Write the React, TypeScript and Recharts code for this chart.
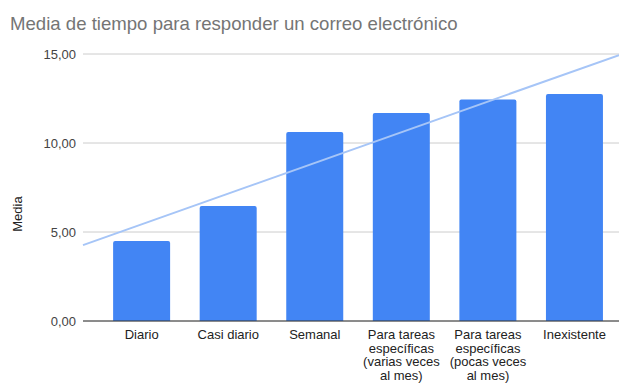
import React from 'react';
import {
  ComposedChart,
  Bar,
  XAxis,
  YAxis,
  CartesianGrid,
  ReferenceLine,
} from 'recharts';

const categories = [
  'Diario',
  'Casi diario',
  'Semanal',
  'Para tareas específicas (varias veces al mes)',
  'Para tareas específicas (pocas veces al mes)',
  'Inexistente',
];
const tickLines: string[][] = [
  ['Diario'],
  ['Casi diario'],
  ['Semanal'],
  ['Para tareas', 'específicas', '(varias veces', 'al mes)'],
  ['Para tareas', 'específicas', '(pocas veces', 'al mes)'],
  ['Inexistente'],
];
const media = [4.49, 6.46, 10.62, 11.69, 12.45, 12.75];
const yTicks = [0, 5, 10, 15];

const data = categories.map((c, i) => ({ name: c, idx: i, media: media[i] }));

// least-squares linear trendline over category index
const n = media.length;
const mx = (n - 1) / 2;
const my = media.reduce((a, b) => a + b, 0) / n;
let sxy = 0;
let sxx = 0;
media.forEach((v, i) => {
  sxy += (i - mx) * (v - my);
  sxx += (i - mx) * (i - mx);
});
const slope = sxy / sxx;
const intercept = my - slope * mx;

const W = 619;
const H = 383;
const plotLeft = 83;
const padL = 15.4;
const padR = 1.2;
const band = (W - plotLeft - padL - padR) / n;
const tMin = -0.5 - padL / band;
const tMax = n - 0.5 + padR / band;

const FONT = "Arial, 'Liberation Sans', sans-serif";

const XTick = (props: any) => {
  const { x, y, payload } = props;
  const lines = tickLines[payload.index] || [String(payload.value)];
  return (
    <text x={x} y={y} textAnchor="middle" fill="#222" fontSize={13} fontFamily={FONT}>
      {lines.map((l, i) => (
        <tspan key={i} x={x} y={y + 10 + i * 13.5}>
          {l}
        </tspan>
      ))}
    </text>
  );
};

export default function App() {
  return (
    <div style={{ position: 'absolute', left: 0, top: 0, width: W, height: H, background: '#fff' }}>
      <div
        style={{
          position: 'absolute',
          left: 10,
          top: 11,
          fontFamily: FONT,
          fontSize: 18.6,
          color: '#757575',
          whiteSpace: 'nowrap',
          lineHeight: '26px',
        }}
      >
        Media de tiempo para responder un correo electrónico
      </div>
      <div
        style={{
          position: 'absolute',
          left: 17,
          top: 214,
          transform: 'translate(-50%, -50%) rotate(-90deg)',
          fontFamily: FONT,
          fontSize: 13,
          color: '#222',
          whiteSpace: 'nowrap',
        }}
      >
        Media
      </div>
      <div style={{ position: 'absolute', left: 0, top: 0 }}>
        <ComposedChart
          width={W}
          height={H}
          data={data}
          margin={{ top: 54, right: 0, bottom: 0, left: 0 }}
          barCategoryGap="17%"
        >
          <CartesianGrid vertical={false} stroke="#cccccc" />
          <XAxis
            dataKey="name"
            type="category"
            padding={{ left: padL, right: padR }}
            tickLine={false}
            axisLine={{ stroke: '#333333' }}
            interval={0}
            tick={<XTick />}
            height={62}
          />
          <XAxis
            xAxisId="trend"
            dataKey="idx"
            type="number"
            domain={[tMin, tMax]}
            allowDataOverflow
            hide
            height={0}
          />
          <YAxis
            width={plotLeft}
            domain={[0, 15]}
            ticks={yTicks}
            tickFormatter={(v: number) => v.toFixed(2).replace('.', ',')}
            axisLine={false}
            tickLine={false}
            tickMargin={1}
            tick={{ fill: '#444', fontSize: 13, fontFamily: FONT }}
          />
          <Bar dataKey="media" fill="#4285f4" radius={[2, 2, 0, 0]} isAnimationActive={false} />
          <ReferenceLine
            xAxisId="trend"
            segment={[
              { x: tMin, y: intercept + slope * tMin },
              { x: tMax, y: intercept + slope * tMax },
            ]}
            stroke="#a6c5f7"
            strokeWidth={2}
            ifOverflow="visible"
          />
        </ComposedChart>
      </div>
    </div>
  );
}
